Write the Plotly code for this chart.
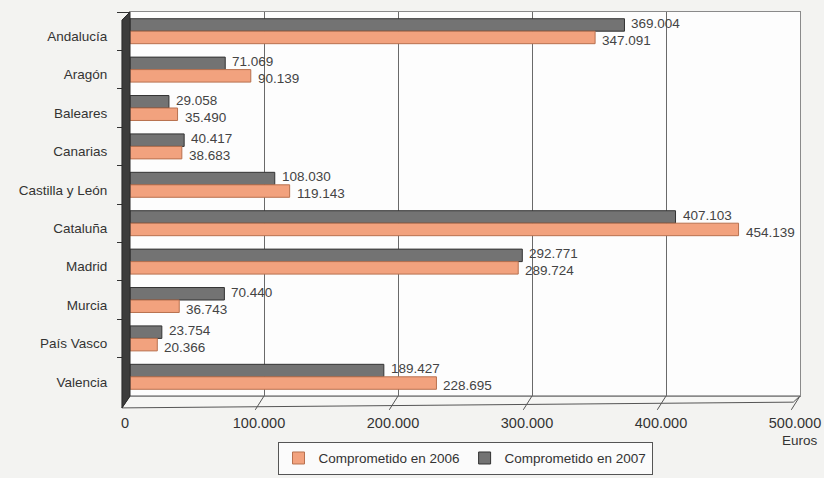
import plotly.graph_objects as go

categories = ["Andalucía", "Aragón", "Baleares", "Canarias", "Castilla y León",
              "Cataluña", "Madrid", "Murcia", "País Vasco", "Valencia"]
v2006 = [347091, 90139, 35490, 38683, 119143, 454139, 289724, 36743, 20366, 228695]
v2007 = [369004, 71069, 29058, 40417, 108030, 407103, 292771, 70440, 23754, 189427]
xticks = [0, 100000, 200000, 300000, 400000, 500000]

def fmt(v):
    return f"{v:,}".replace(",", ".")

fig = go.Figure()
fig.add_trace(go.Bar(
    y=categories, x=v2007, orientation="h", name="Comprometido en 2007",
    marker=dict(color="#737373", line=dict(color="#333333", width=1)),
    legendrank=2,
))
fig.add_trace(go.Bar(
    y=categories, x=v2006, orientation="h", name="Comprometido en 2006",
    marker=dict(color="#f2a27e", line=dict(color="#b8714f", width=1)),
    legendrank=1,
))

annotations = []
for c, v in zip(categories, v2007):
    annotations.append(dict(x=v, y=c, xref="x", yref="y", text=fmt(v), showarrow=False,
                            xanchor="left", yanchor="middle", xshift=5, yshift=8,
                            font=dict(size=13.5, color="#444444")))
for c, v in zip(categories, v2006):
    annotations.append(dict(x=v, y=c, xref="x", yref="y", text=fmt(v), showarrow=False,
                            xanchor="left", yanchor="middle", xshift=5, yshift=-9,
                            font=dict(size=13.5, color="#444444")))
annotations.append(dict(text="Euros", xref="paper", yref="paper", x=1.0, y=-0.117,
                        xanchor="center", yanchor="middle", showarrow=False,
                        font=dict(size=13.5, color="#333333")))

shapes = []
# floor (3D base)
shapes.append(dict(type="path", xref="paper", yref="paper",
                   path="M -0.012,-0.031 L 0.99,-0.016 L 1,0 L 0,0 Z",
                   fillcolor="#f6f6f4", line=dict(color="#555555", width=1), layer="below"))
# left wall
shapes.append(dict(type="path", xref="paper", yref="paper",
                   path="M -0.012,-0.031 L -0.012,0.979 L 0,1 L 0,0 Z",
                   fillcolor="#3c3c3c", line=dict(color="#2a2a2a", width=1)))
# slanted floor tick marks
for t in xticks[1:]:
    fx = t / 500000
    shapes.append(dict(type="line", xref="paper", yref="paper",
                       x0=fx, y0=0, x1=fx - 0.013, y1=-0.036,
                       line=dict(color="#555555", width=1)))

fig.update_layout(
    width=824, height=478,
    paper_bgcolor="#f3f3f1", plot_bgcolor="#fdfdfd",
    margin=dict(l=130, r=24, t=12, b=82, autoexpand=False),
    separators=",.",
    barmode="group", bargap=0.35, bargroupgap=0.0,
    font=dict(family="Liberation Sans, Arial, sans-serif", size=13.5, color="#333333"),
    showlegend=True,
    legend=dict(orientation="h", x=0.5, xanchor="center", y=-0.205, yanchor="bottom",
                bgcolor="#fbfbfb", bordercolor="#555555", borderwidth=1,
                font=dict(size=13.5, color="#333333"), traceorder="normal",
                itemwidth=30),
    xaxis=dict(range=[0, 500000], tickvals=xticks, tickformat=",d",
               showgrid=True, gridcolor="#6a6a6a", gridwidth=1,
               zeroline=False, showline=True, linecolor="#8a8a8a", mirror=True,
               ticks="", ticklabelstandoff=14, ticklabelshift=-5,
               ticklabeloverflow="allow", automargin=False,
               tickfont=dict(size=14.5, color="#333333")),
    yaxis=dict(autorange="reversed", showgrid=False, zeroline=False,
               showline=True, linecolor="#8a8a8a", mirror=True,
               ticks="outside", tickson="boundaries", ticklen=12, tickcolor="#333333",
               ticklabelstandoff=19, ticklabelshift=-5, automargin=False,
               tickfont=dict(size=13.5, color="#333333")),
    shapes=shapes,
    annotations=annotations,
)

fig.write_html("out.html", config={"displayModeBar": False},
               post_script="document.body.style.margin='0px';")
